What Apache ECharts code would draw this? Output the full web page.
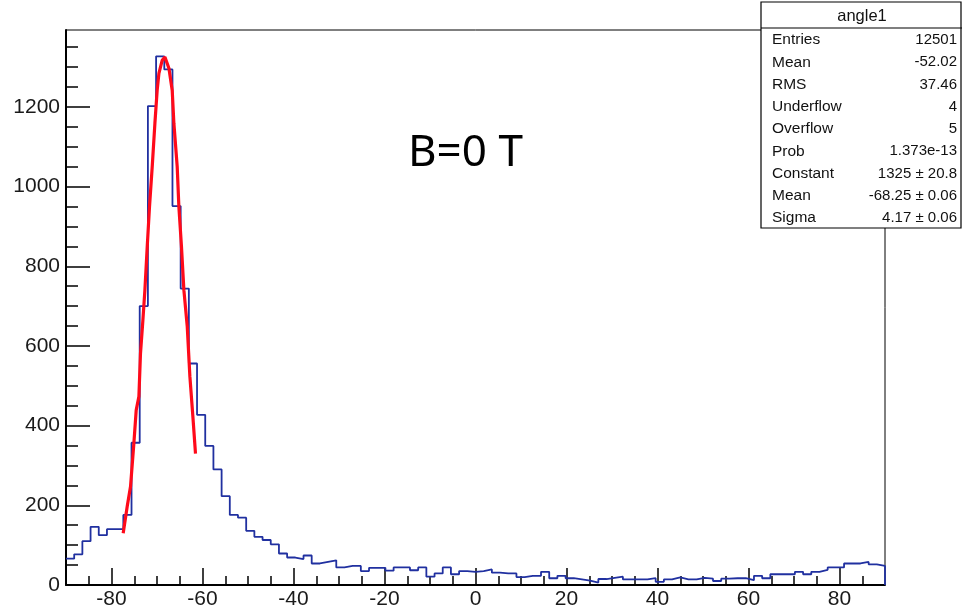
<!DOCTYPE html>
<html>
<head>
<meta charset="utf-8">
<title>angle1</title>
<script src="https://cdn.jsdelivr.net/npm/echarts@6/dist/echarts.min.js"></script>
<style>
  html, body { margin: 0; padding: 0; background: #fff; }
  #main { width: 962px; height: 615px; }
</style>
</head>
<body>
<div id="main"></div>
<script>
// histogram angle1: 100 bins from -90 to 90
var binLow = -90;
var binWidth = 1.8;
var counts = [
  66, 77, 110, 146, 125, 140, 140, 176, 357, 700,
  1202, 1327, 1294, 951, 744, 556, 427, 349, 290, 223,
  176, 169, 136, 121, 113, 102, 79, 69, 65, 74,
  54, 58, 62, 44, 48, 48, 35, 43, 43, 36,
  44, 44, 37, 44, 21, 29, 44, 27, 35, 33,
  35, 39, 31, 29, 29, 20, 23, 23, 33, 17,
  23, 17, 14, 11, 6, 15, 18, 21, 14, 14,
  14, 17, 8, 14, 19, 14, 14, 18, 16, 10,
  16, 17, 17, 12, 23, 17, 27, 27, 27, 33,
  27, 33, 38, 44, 44, 54, 54, 58, 52, 48
];

// gaus fit curve
var fitPoints = [
  [-77.43, 130], [-76.55, 197], [-75.82, 247], [-75.08, 356], [-74.57, 439],
  [-73.98, 473], [-73.63, 581], [-73.10, 665], [-72.66, 740], [-72.15, 849],
  [-71.65, 949], [-71.05, 1050], [-70.46, 1159], [-69.96, 1242], [-69.58, 1284],
  [-68.86, 1317], [-68.26, 1325], [-67.38, 1297], [-66.66, 1242], [-66.29, 1159],
  [-65.56, 1050], [-65.19, 949], [-64.62, 849], [-64.09, 740], [-63.36, 650],
  [-62.77, 523], [-62.11, 422], [-61.54, 330]
];

var xMajor = [-80, -60, -40, -20, 0, 20, 40, 60, 80];
var xMinor = [-85, -75, -70, -65, -55, -50, -45, -35, -30, -25, -15, -10, -5,
  5, 10, 15, 25, 30, 35, 45, 50, 55, 65, 70, 75, 85];
var yMajor = [0, 200, 400, 600, 800, 1000, 1200];
var yMinor = [50, 100, 150, 250, 300, 350, 450, 500, 550, 650, 700, 750,
  850, 900, 950, 1050, 1100, 1150, 1250, 1300, 1350];

var statTitle = "angle1";
var statNames = ["Entries", "Mean", "RMS", "Underflow", "Overflow", "Prob", "Constant", "Mean", "Sigma"];
var statValues = ["12501", "-52.02", "37.46", "4", "5", "1.373e-13", "1325 \u00b1 20.8", "-68.25 \u00b1 0.06", "4.17 \u00b1 0.06"];

var label = "B=0 T";

// step line points at bin edges
var histPoints = [];
for (var i = 0; i < counts.length; i++) {
  histPoints.push([binLow + binWidth * i, counts[i]]);
}
histPoints.push([binLow + binWidth * counts.length, counts[counts.length - 1]]);
histPoints.push([binLow + binWidth * counts.length, 0]);

var myChart = echarts.init(document.getElementById("main"));

var labelFont = {
  fontFamily: "Liberation Sans",
  fontSize: 21,
  color: "#1a1a1a",
  formatter: function(v) { return String(v); }
};

function xAxisDef(ticks, len, showLabel, showLine) {
  return {
    type: "value",
    position: "bottom",
    offset: 0,
    min: -90,
    max: 90,
    gridIndex: 0,
    axisLine: { show: showLine, onZero: false, lineStyle: { color: "#000", width: 2 } },
    splitLine: { show: false },
    axisTick: {
      show: true,
      inside: true,
      length: len,
      customValues: ticks,
      lineStyle: { color: "#000", width: 1.5 }
    },
    axisLabel: Object.assign({
      show: showLabel,
      customValues: ticks,
      margin: 4
    }, labelFont)
  };
}

function yAxisDef(ticks, len, showLabel, showLine) {
  return {
    type: "value",
    position: "left",
    offset: 0,
    min: 0,
    max: 1393,
    gridIndex: 0,
    axisLine: { show: showLine, onZero: false, lineStyle: { color: "#000", width: 2 } },
    splitLine: { show: false },
    axisTick: {
      show: true,
      inside: true,
      length: len,
      customValues: ticks,
      lineStyle: { color: "#000", width: 1.5 }
    },
    axisLabel: Object.assign({
      show: showLabel,
      customValues: ticks,
      margin: 6
    }, labelFont)
  };
}

var statChildren = [
  {
    type: "rect",
    shape: { x: 761, y: 2, width: 200, height: 226 },
    style: { fill: "#fff", stroke: "#000", lineWidth: 1.2 }
  },
  {
    type: "line",
    shape: { x1: 761, y1: 28, x2: 962, y2: 28 },
    style: { stroke: "#000", lineWidth: 1.2 }
  },
  {
    type: "text",
    x: 862,
    y: 16,
    style: {
      text: statTitle,
      align: "center",
      verticalAlign: "middle",
      fontFamily: "Liberation Sans",
      fontSize: 16.5,
      fill: "#111"
    }
  }
];
for (var k = 0; k < statNames.length; k++) {
  statChildren.push({
    type: "text",
    x: 772,
    y: 40 + 22.25 * k,
    style: {
      text: statNames[k],
      align: "left",
      verticalAlign: "middle",
      fontFamily: "Liberation Sans",
      fontSize: 15.5,
      fill: "#111"
    }
  });
  statChildren.push({
    type: "text",
    x: 957,
    y: 40 + 22.25 * k,
    style: {
      text: statValues[k],
      align: "right",
      verticalAlign: "middle",
      fontFamily: "Liberation Sans",
      fontSize: 15,
      fill: "#111"
    }
  });
}

myChart.setOption({
  animation: false,
  backgroundColor: "#fff",
  grid: {
    left: 66,
    right: 77,
    top: 30,
    bottom: 30,
    show: true,
    borderColor: "#000",
    borderWidth: 1,
    containLabel: false,
    outerBoundsMode: "none"
  },
  xAxis: [
    xAxisDef(xMajor, 17, true, true),
    xAxisDef(xMinor, 9, false, false)
  ],
  yAxis: [
    yAxisDef(yMajor, 24, true, true),
    yAxisDef(yMinor, 12, false, false)
  ],
  series: [
    {
      name: "angle1",
      type: "line",
      step: "end",
      data: histPoints,
      showSymbol: false,
      lineStyle: { color: "#2030a0", width: 1.8 },
      z: 2
    },
    {
      name: "gaus",
      type: "line",
      data: fitPoints,
      showSymbol: false,
      lineStyle: { color: "#ff0a1a", width: 3.2 },
      z: 3
    }
  ],
  graphic: [
    {
      type: "text",
      left: 408,
      top: 131,
      style: {
        text: label,
        fontFamily: "Noto Sans",
        fontSize: 44,
        fill: "#000"
      }
    },
    {
      type: "group",
      z: 100,
      children: statChildren
    }
  ]
});
</script>
</body>
</html>
